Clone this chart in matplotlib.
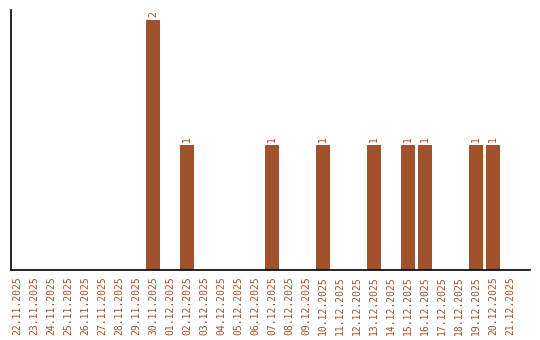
import matplotlib
matplotlib.use("Agg")
import matplotlib.pyplot as plt
import datetime as dt

start = dt.date(2025, 11, 22)
dates = [(start + dt.timedelta(days=i)).strftime("%d.%m.%Y") for i in range(30)]
counts_by_date = {"30.11.2025": 2, "02.12.2025": 1, "07.12.2025": 1, "10.12.2025": 1,
                  "13.12.2025": 1, "15.12.2025": 1, "16.12.2025": 1, "19.12.2025": 1,
                  "20.12.2025": 1}
values = [counts_by_date.get(d, 0) for d in dates]

color = "#A0522D"
fig = plt.figure(figsize=(5.4, 3.4), dpi=100)
ax = fig.add_axes([11/540, 70/340, 519/540, 260/340])
x = list(range(len(dates)))
bars = ax.bar(x, values, width=0.82, color=color)
for xi, v in zip(x, values):
    if v > 0:
        ax.text(xi, v + 0.025, str(v), rotation=90, ha="center", va="bottom",
                color=color, fontsize=7, family="DejaVu Sans Mono")
ax.set_xlim(-6/17, 29 + 20/17)
ax.set_ylim(0, 2.08)
ax.set_xticks(x)
ax.set_xticklabels(dates, rotation=90, color=color, fontsize=7, family="DejaVu Sans Mono")
ax.tick_params(axis="x", length=0, pad=4.5)
ax.set_yticks([])
ax.spines["top"].set_visible(False)
ax.spines["right"].set_visible(False)
for s in ("left", "bottom"):
    ax.spines[s].set_linewidth(1.2)
fig.savefig("out.png", dpi=100)
